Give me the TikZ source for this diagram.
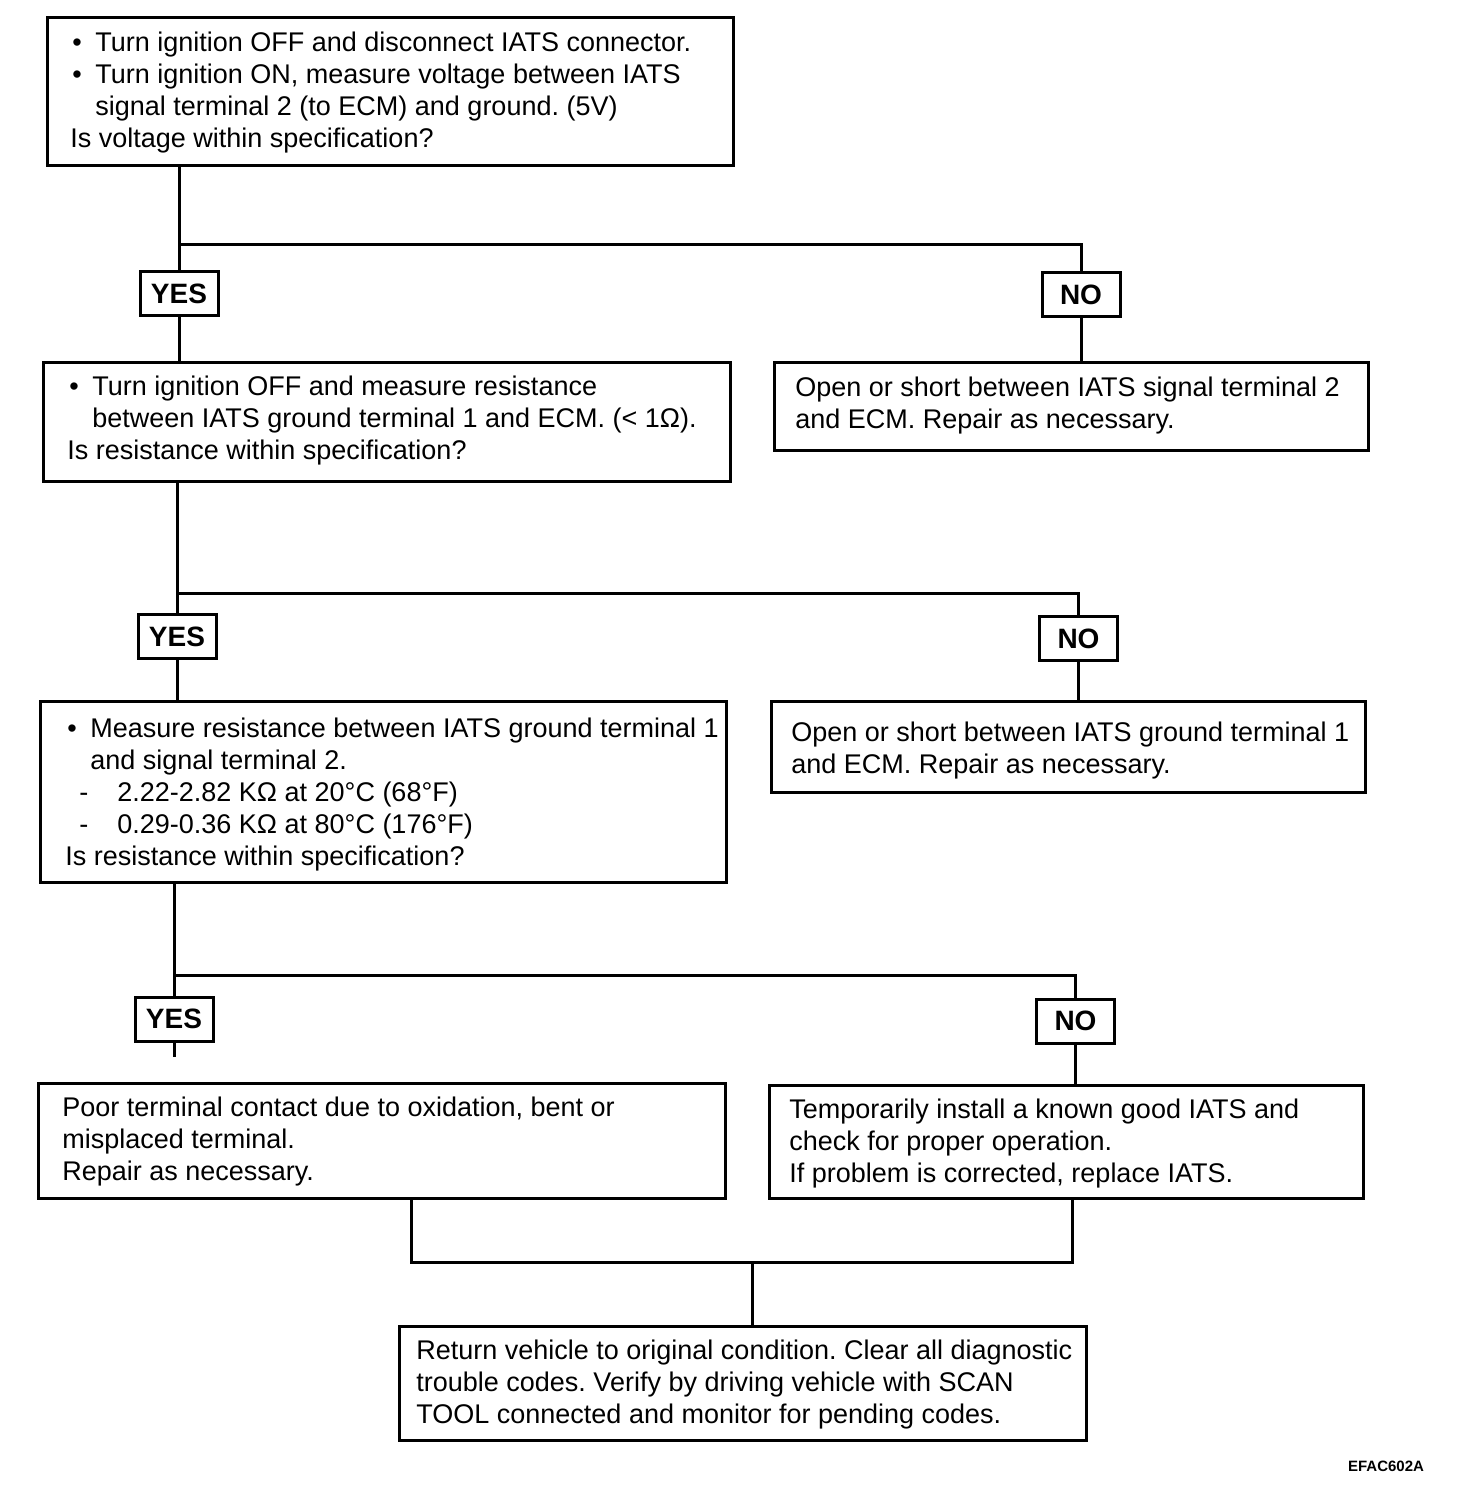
\documentclass[tikz,border=0pt]{standalone}
\usepackage{fontspec}
\setmainfont{Liberation Sans}
\newcommand\bul{\makebox[12.5pt][l]{\hspace{1pt}•}}
\newcommand\ind{\hspace*{12.5pt}}
\newcommand\dsh{\hspace*{7pt}\makebox[19pt][l]{-}}
\frenchspacing
\begin{document}
\begin{tikzpicture}[x=0.5pt,y=-0.5pt,
  box/.style={draw, rectangle, line width=1.5pt, inner sep=0pt},
  yn/.style={draw, rectangle, line width=1.5pt, inner sep=0pt, minimum width=39pt, minimum height=22pt, font=\fontsize{14}{16}\selectfont\bfseries},
  txt/.style={anchor=west, align=left, inner sep=0pt, font=\fontsize{13.5}{16}\selectfont\frenchspacing},
  conn/.style={line width=1.5pt}]
\useasboundingbox (0,0) rectangle (1472,1502);

% boxes
\node[box, minimum width=343pt, minimum height=74pt] (b1) at (390,92) {};
\node[box, minimum width=343.5pt, minimum height=59pt] (b2) at (386.5,422) {};
\node[box, minimum width=297pt, minimum height=43.5pt] (b3) at (1071,406.5) {};
\node[box, minimum width=343pt, minimum height=90.5pt] (b4) at (383,791.5) {};
\node[box, minimum width=297pt, minimum height=45.5pt] (b5) at (1068,746.5) {};
\node[box, minimum width=343.5pt, minimum height=57.5pt] (b6) at (381.5,1140.5) {};
\node[box, minimum width=297pt, minimum height=56.5pt] (b7) at (1066,1141.5) {};
\node[box, minimum width=343.5pt, minimum height=57pt] (b8) at (742.5,1383) {};

% texts
\node[txt] (t1) at (70,92.5) {\bul Turn ignition OFF and disconnect IATS connector.\\
\bul Turn ignition ON, measure voltage between IATS\\
\ind signal terminal 2 (to ECM) and ground. (5V)\\
Is voltage within specification?};
\node[txt] (t2) at (67,420.5) {\bul Turn ignition OFF and measure resistance\\
\ind between IATS ground terminal 1 and ECM. (< 1Ω).\\
Is resistance within specification?};
\node[txt] (t3) at (795,405.5) {Open or short between IATS signal terminal 2\\
and ECM. Repair as necessary.};
\node[txt] (t4) at (65,794.5) {\bul Measure resistance between IATS ground terminal 1\\
\ind and signal terminal 2.\\
\dsh 2.22-2.82 KΩ at 20°C (68°F)\\
\dsh 0.29-0.36 KΩ at 80°C (176°F)\\
Is resistance within specification?};
\node[txt] (t5) at (791,750.5) {Open or short between IATS ground terminal 1\\
and ECM. Repair as necessary.};
\node[txt] (t6) at (62,1141.5) {Poor terminal contact due to oxidation, bent or\\
misplaced terminal.\\
Repair as necessary.};
\node[txt] (t7) at (789,1143.5) {Temporarily install a known good IATS and\\
check for proper operation.\\
If problem is corrected, replace IATS.};
\node[txt] (t8) at (416,1384.5) {Return vehicle to original condition. Clear all diagnostic\\
trouble codes. Verify by driving vehicle with SCAN\\
TOOL connected and monitor for pending codes.};

% YES / NO
\node[yn] (y1) at (179,294) {YES};
\node[yn] (n1) at (1081,295) {NO};
\node[yn] (y2) at (177,636.5) {YES};
\node[yn] (n2) at (1078.5,638.5) {NO};
\node[yn] (y3) at (174,1019) {YES};
\node[yn] (n3) at (1075.5,1021) {NO};

% junction coordinates
\coordinate (j1) at (179,245);
\coordinate (j2) at (177,593);
\coordinate (j3) at (174,975);
\coordinate (s3) at (174,1057);
\coordinate (j6) at (411,1262);
\coordinate (j7) at (1072,1262);
\coordinate (j8) at (752,1262);

% connectors
\draw[conn] (b1.south -| y1.north) -- (y1.north);
\draw[conn] (j1) -| (n1.north);
\draw[conn] (y1.south) -- (b2.north -| y1.south);
\draw[conn] (n1.south) -- (b3.north -| n1.south);

\draw[conn] (b2.south -| y2.north) -- (y2.north);
\draw[conn] (j2) -| (n2.north);
\draw[conn] (y2.south) -- (b4.north -| y2.south);
\draw[conn] (n2.south) -- (b5.north -| n2.south);

\draw[conn] (b4.south -| y3.north) -- (y3.north);
\draw[conn] (j3) -| (n3.north);
\draw[conn] (y3.south) -- (s3);
\draw[conn] (n3.south) -- (b7.north -| n3.south);

\draw[conn] (b6.south -| j6) -- (j6) -- (j7) -- (b7.south -| j7);
\draw[conn] (j8) -- (b8.north -| j8);

\node[inner sep=0pt, font=\fontsize{7.5}{9}\selectfont\bfseries] (code) at (1386,1466) {EFAC602A};
\end{tikzpicture}
\end{document}
